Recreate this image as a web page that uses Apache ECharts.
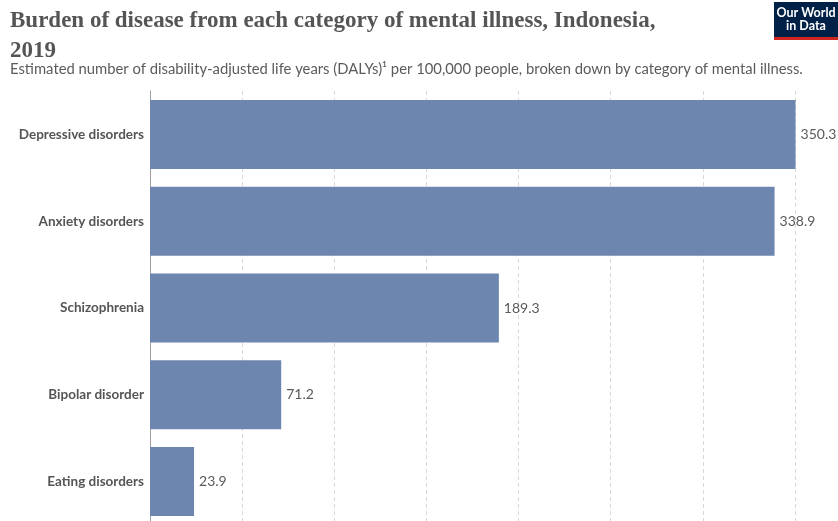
<!DOCTYPE html>
<html><head><meta charset="utf-8">
<script src="https://cdn.jsdelivr.net/npm/echarts@6/dist/echarts.min.js"></script>
<style>html,body{margin:0;padding:0;background:#fff}#c{width:838px;height:521px}</style>
</head><body><div id="c"></div>
<script>
const categories = ["Depressive disorders","Anxiety disorders","Schizophrenia","Bipolar disorder","Eating disorders"];
const values = [350.3, 338.9, 189.3, 71.2, 23.9];
const titleText = "Burden of disease from each category of mental illness, Indonesia,\n2019";
const subtitleText = "Estimated number of disability-adjusted life years (DALYs)\u00b9 per 100,000 people, broken down by category of mental illness.";

const chart = echarts.init(document.getElementById('c'), null, {renderer:'canvas'});
chart.setOption({
  animation:false,
  backgroundColor:'#fff',
  title:[{
    text:titleText, left:10, top:6, padding:0,
    textStyle:{fontFamily:'Liberation Serif', fontSize:23, fontWeight:'bold', color:'#555', lineHeight:30}
  },{
    text:subtitleText, left:10, top:62, padding:0,
    textStyle:{fontFamily:'Lato', fontSize:14.8, fontWeight:'normal', color:'#5b5b5b'}
  }],
  graphic:[
    {type:'rect', shape:{x:774,y:2,width:64,height:35}, style:{fill:'#002147'}},
    {type:'rect', shape:{x:774,y:37,width:64,height:3}, style:{fill:'#ce261e'}},
    {type:'text', x:806, y:6, style:{text:'Our World\nin Data', fill:'#fff', font:'bold 12.5px Lato', textAlign:'center', lineHeight:13}}
  ],
  grid:{left:150, width:645, top:91, height:434, containLabel:false, outerBoundsMode:'none'},
  xAxis:{type:'value', min:0, max:350, interval:50,
    axisLine:{show:false}, axisTick:{show:false}, axisLabel:{show:false},
    splitLine:{show:true, lineStyle:{color:'#d9d9d9', type:[4,3], width:1}}},
  yAxis:{type:'category', data:categories, inverse:true,
    axisLine:{show:true, lineStyle:{color:'#a0a0a0', width:1}}, axisTick:{show:false},
    axisLabel:{fontFamily:'Lato', fontSize:13.5, fontWeight:'bold', color:'#555', margin:6}},
  series:[{type:'bar', data:values, clip:false, barCategoryGap:'20.5%',
    itemStyle:{color:'#6d86af'},
    label:{show:true, position:'right', distance:5, fontFamily:'Lato', fontSize:14, color:'#5b5b5b',
      formatter:p=>p.value.toFixed(1)}}]
});
</script></body></html>
